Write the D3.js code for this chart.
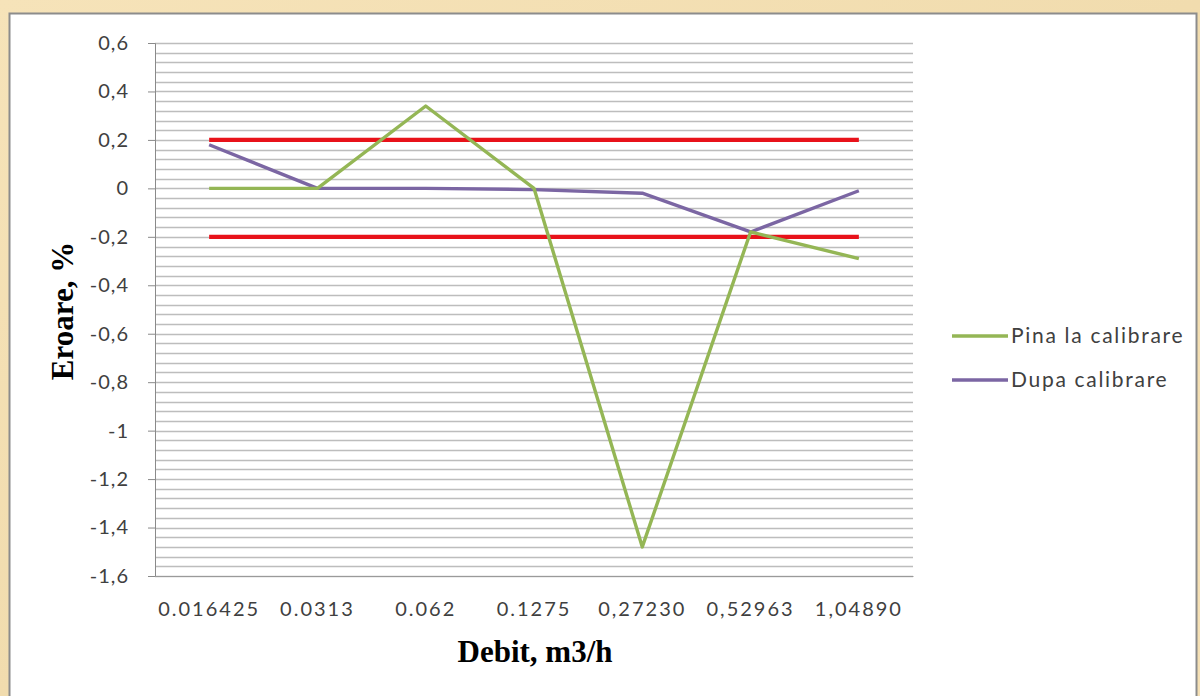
<!DOCTYPE html>
<html>
<head>
<meta charset="utf-8">
<script src="https://cdn.jsdelivr.net/npm/d3@7"></script>
<style>
  html, body { margin: 0; padding: 0; background: #f3dfb4; }
  svg { display: block; }
</style>
</head>
<body>
<svg id="chart" width="1200" height="696"></svg>
<script>
// Flow rates (categories) and measured error, %
const categories = ["0.016425", "0.0313", "0.062", "0.1275", "0,27230", "0,52963", "1,04890"];
const pinaLaCalibrare = [0, 0, 0.34, 0, -1.48, -0.18, -0.29];
const dupaCalibrare = [0.18, 0, 0, -0.005, -0.02, -0.18, -0.01];
const upperLimit = [0.2, 0.2, 0.2, 0.2, 0.2, 0.2, 0.2];
const lowerLimit = [-0.2, -0.2, -0.2, -0.2, -0.2, -0.2, -0.2];
const yTicks = [0.6, 0.4, 0.2, 0, -0.2, -0.4, -0.6, -0.8, -1, -1.2, -1.4, -1.6];
const seriesNames = ["Pina la calibrare", "Dupa calibrare"];

const svg = d3.select("#chart");
const labelFont = "Lato, 'Open Sans', sans-serif";
const titleFont = "'Liberation Serif', 'Times New Roman', serif";

// parchment backdrop
const defs = svg.append("defs");
const bg = defs.append("linearGradient").attr("id", "parch").attr("x1", 0).attr("x2", 1).attr("y1", 0).attr("y2", 1);
bg.append("stop").attr("offset", "0%").attr("stop-color", "#f6e3b9");
bg.append("stop").attr("offset", "50%").attr("stop-color", "#f1dcae");
bg.append("stop").attr("offset", "100%").attr("stop-color", "#f5e0b5");
svg.append("rect").attr("width", 1200).attr("height", 696).attr("fill", "url(#parch)");

// white chart card
svg.append("rect")
  .attr("x", 9.5).attr("y", 13.5).attr("width", 1187).attr("height", 690)
  .attr("fill", "#ffffff").attr("stroke", "#8c8c8c").attr("stroke-width", 2);

const plot = { left: 155, right: 913, top: 43, bottom: 576 };

const x = d3.scaleBand().domain(categories).range([plot.left, plot.right]);
const y = d3.scaleLinear().domain([-1.6, 0.6]).range([plot.bottom, plot.top]);

// minor gridlines every 0.04 (major unit / 5)
const minor = d3.range(0, 56).map(i => +(0.6 - i * 0.04).toFixed(2));
svg.append("g").selectAll("line").data(minor).join("line")
  .attr("x1", plot.left).attr("x2", plot.right)
  .attr("y1", d => Math.round(y(d)) + 0.5).attr("y2", d => Math.round(y(d)) + 0.5)
  .attr("stroke", "#bdbdbd").attr("stroke-width", 1.4);

// y axis, decimal comma, plain hyphen for negatives
const yAxis = d3.axisLeft(y).tickValues(yTicks).tickSize(7).tickPadding(19)
  .tickFormat(d => String(d).replace(".", ","));
const gy = svg.append("g").attr("transform", `translate(${plot.left},0)`).call(yAxis);
gy.select(".domain").attr("stroke", "#8a8a8a");
gy.selectAll(".tick line").attr("stroke", "#8a8a8a");
gy.selectAll(".tick text")
  .attr("font-family", labelFont).attr("font-size", 20).attr("fill", "#404040")
  .attr("letter-spacing", "1px");

// x axis labels
const xAxis = d3.axisBottom(x).tickSize(0).tickPadding(26);
const gx = svg.append("g").attr("transform", `translate(0,${plot.bottom})`).call(xAxis);
gx.select(".domain").attr("stroke", "#9a9a9a");
gx.selectAll(".tick text")
  .attr("font-family", labelFont).attr("font-size", 20).attr("fill", "#404040")
  .attr("letter-spacing", "2px");

const line = d3.line().x((d, i) => x(categories[i]) + x.bandwidth() / 2).y(d => y(d));

// tolerance limits
[upperLimit, lowerLimit].forEach(arr => {
  svg.append("path").datum(arr).attr("d", line)
    .attr("fill", "none").attr("stroke", "#e8121a").attr("stroke-width", 4.2);
});

svg.append("path").datum(dupaCalibrare).attr("d", line)
  .attr("fill", "none").attr("stroke", "#7b66a3").attr("stroke-width", 3.4).attr("stroke-linejoin", "round");
svg.append("path").datum(pinaLaCalibrare).attr("d", line)
  .attr("fill", "none").attr("stroke", "#94b655").attr("stroke-width", 3.4).attr("stroke-linejoin", "round");

// legend
const legColors = ["#94b655", "#7b66a3"];
const leg = svg.append("g");
seriesNames.forEach((name, i) => {
  const ly = 336 + i * 44;
  leg.append("line").attr("x1", 952).attr("x2", 1008).attr("y1", ly).attr("y2", ly)
    .attr("stroke", legColors[i]).attr("stroke-width", 3.4);
  leg.append("text").attr("x", 1011).attr("y", ly).attr("dy", "0.35em")
    .attr("font-family", labelFont).attr("font-size", 21).attr("fill", "#404040")
    .attr("letter-spacing", "1.7px")
    .text(name);
});

// axis titles
svg.append("text")
  .attr("transform", "translate(62,311) rotate(-90)")
  .attr("text-anchor", "middle").attr("dy", "0.35em")
  .attr("font-family", titleFont).attr("font-weight", "bold")
  .attr("font-size", 31).attr("fill", "#000")
  .text("Eroare, %");
svg.append("text")
  .attr("x", 535).attr("y", 662).attr("text-anchor", "middle")
  .attr("font-family", titleFont).attr("font-weight", "bold")
  .attr("font-size", 31).attr("fill", "#000")
  .text("Debit, m3/h");
</script>
</body>
</html>
